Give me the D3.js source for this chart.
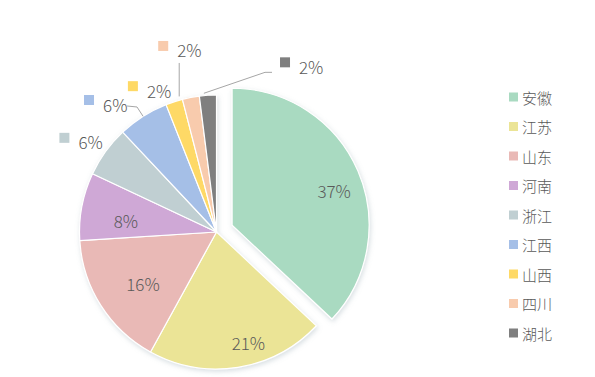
<!DOCTYPE html>
<html>
<head>
<meta charset="utf-8">
<script src="https://cdn.jsdelivr.net/npm/d3@7"></script>
<style>
  html, body { margin: 0; padding: 0; background: #fff; }
  svg { display: block; }
  text { font-family: "Noto Sans CJK SC", "Open Sans", sans-serif; fill: #595959; font-weight: 300; }
</style>
</head>
<body>
<svg id="chart" width="595" height="377"></svg>
<script>
// chart data
var provinces = ["安徽", "江苏", "山东", "河南", "浙江", "江西", "山西", "四川", "湖北"];
var shares = [37, 21, 16, 8, 6, 6, 2, 2, 2];
var colors = ["#a9dac1", "#ebe496", "#e9b9b6", "#cfa8d6", "#c0cfd2", "#a5bfe7", "#fed966", "#f8cbad", "#7f7f7f"];

window.onload = function(){
    drawPie();
    drawLegend();
};

function drawPie(){
    let svg = d3.select("#chart");
    let cx = 216.5, cy = 232, radius = 137;
    let explode = 17;

    // soft shadow under the slices
    let filter = svg.append("defs").append("filter")
        .attr("id", "shadow")
        .attr("x", "-20%").attr("y", "-20%")
        .attr("width", "140%").attr("height", "140%");
    filter.append("feDropShadow")
        .attr("dx", 1).attr("dy", 2)
        .attr("stdDeviation", 2.5)
        .attr("flood-color", "#8fa3ad")
        .attr("flood-opacity", 0.35);

    let pie = d3.pie().sort(null).value(function(d){ return d; });
    let arcs = pie(shares);
    let arc = d3.arc().innerRadius(0).outerRadius(radius);
    let labelArc = d3.arc().innerRadius(radius * 0.74).outerRadius(radius * 0.74);

    function mid(d){ return (d.startAngle + d.endAngle) / 2; }
    function shift(d, i){
        if(i !== 0) return [0, 0];
        let a = mid(d);
        return [Math.sin(a) * explode, -Math.cos(a) * explode];
    }

    let g = svg.append("g")
        .attr("transform", `translate(${cx},${cy})`);

    g.append("g")
        .attr("filter", "url(#shadow)")
        .selectAll("path")
        .data(arcs)
        .enter()
        .append("path")
        .attr("d", arc)
        .attr("transform", function(d, i){
            let s = shift(d, i);
            return `translate(${s[0]},${s[1]})`;
        })
        .style("fill", function(d, i){ return colors[i]; })
        .style("stroke", "white")
        .style("stroke-width", 1.2);

    // labels inside the big slices (small nudges like the original best-fit)
    let innerNudge = {0: [9, 5], 1: [16, 10], 2: [12, -3], 3: [9, 7]};
    g.selectAll("text.inner")
        .data(arcs.filter(function(d){ return innerNudge[d.index]; }))
        .enter()
        .append("text")
        .attr("class", "inner")
        .attr("x", function(d){ return labelArc.centroid(d)[0] + shift(d, d.index)[0] + innerNudge[d.index][0]; })
        .attr("y", function(d){ return labelArc.centroid(d)[1] + shift(d, d.index)[1] + innerNudge[d.index][1]; })
        .attr("text-anchor", "middle")
        .attr("dominant-baseline", "central")
        .style("font-size", "17px")
        .text(function(d){ return d.data + "%"; });

    // outside labels for the thin slices, moved like the original layout
    // [dx, dy, leader type] relative to a point 30px outside the rim
    let nudges = {4: [-17, 4, 0], 5: [-38, 9, 1], 6: [-32, 13, 0], 7: [-22, -22, 2], 8: [79, -3, 3]};
    let outerArc = d3.arc().innerRadius(radius + 30).outerRadius(radius + 30);
    let edgeArc = d3.arc().innerRadius(radius).outerRadius(radius);

    arcs.forEach(function(d){
        let n = nudges[d.index];
        if(!n) return;
        let c = outerArc.centroid(d);
        let sx = c[0] + n[0], sy = c[1] + n[1];   // centre of the colour square
        g.append("rect")
            .attr("x", sx - 5).attr("y", sy - 5)
            .attr("width", 10).attr("height", 10)
            .style("fill", colors[d.index]);
        g.append("text")
            .attr("x", sx + 14).attr("y", sy + 4)
            .attr("dominant-baseline", "central")
            .style("font-size", "17px")
            .text(d.data + "%");

        let e = edgeArc.centroid(d);
        let line = null;
        if(n[2] === 1){
            line = [[sx + 38, sy + 6], [sx + 48, sy + 7], e];
        } else if(n[2] === 2){
            line = [[sx + 16, sy + 17], [sx + 16, e[1] - 1]];
        } else if(n[2] === 3){
            line = [[sx - 13, sy + 10], [sx - 20, sy + 10], [e[0] - 4, e[1] - 2]];
        }
        if(line){
            g.append("path")
                .attr("d", d3.line()(line))
                .style("fill", "none")
                .style("stroke", "#a6a6a6")
                .style("stroke-width", 1);
        }
    });
}

function drawLegend(){
    let svg = d3.select("#chart");
    let yScale = d3.scalePoint()
        .domain(provinces)
        .range([97, 333]);

    let items = svg.append("g").selectAll("g")
        .data(provinces)
        .enter()
        .append("g")
        .attr("transform", function(d){ return `translate(509,${yScale(d)})`; });

    items.append("rect")
        .attr("x", 0).attr("y", -4.5)
        .attr("width", 9).attr("height", 9)
        .style("fill", function(d, i){ return colors[i]; });

    items.append("text")
        .attr("x", 13).attr("y", 0)
        .attr("dominant-baseline", "central")
        .style("font-size", "15px")
        .text(function(d){ return d; });
}
</script>
</body>
</html>
